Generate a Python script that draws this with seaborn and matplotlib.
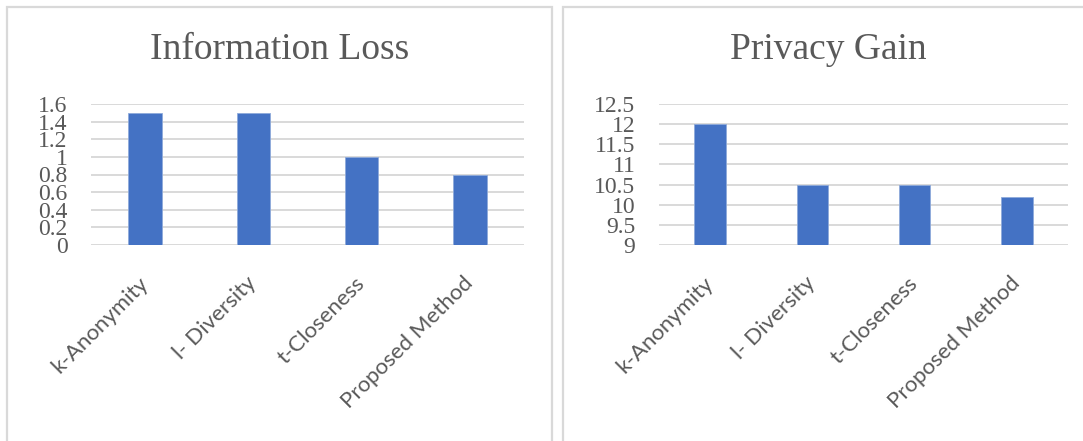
import matplotlib
matplotlib.use('Agg')
import matplotlib.pyplot as plt
import matplotlib.transforms as mtransforms
from matplotlib.patches import Rectangle
import seaborn as sns
import pandas as pd
import numpy as np

# data
methods = ['k-Anonymity', 'l- Diversity', 't-Closeness', 'Proposed Method']
info_loss = [1.5, 1.5, 1.0, 0.8]
privacy_gain = [12.0, 10.5, 10.5, 10.2]
info_ticks = [0, 0.2, 0.4, 0.6, 0.8, 1, 1.2, 1.4, 1.6]
gain_ticks = [9, 9.5, 10, 10.5, 11, 11.5, 12, 12.5]

TEXT = '#595959'
GRID = '#d9d9d9'
BAR = '#4472C4'

sns.set_theme(style='white')
plt.rcParams['font.family'] = ['Liberation Serif', 'DejaVu Serif']

W, H = 1083, 441
fig = plt.figure(figsize=(W / 100, H / 100), dpi=100)
fig.patch.set_facecolor('white')

# panel frames (pixel coords -> figure fraction)
for x0, x1 in [(7, 552), (563, 1095)]:
    fig.patches.append(Rectangle((x0 / W, -0.05), (x1 - x0) / W, 1.05 - 7 / H,
                                 transform=fig.transFigure, fill=False,
                                 edgecolor=GRID, linewidth=1.6))


def draw(ax, values, ticks, title, title_x):
    df = pd.DataFrame({'method': methods, 'value': values})
    sns.barplot(data=df, x='method', y='value', color=BAR, width=0.31,
                saturation=1, ax=ax, edgecolor='#8eaadb', linewidth=0.6)
    ax.set_ylim(ticks[0], ticks[-1])
    ax.set_yticks(ticks)
    ax.set_yticklabels([('%g' % t) for t in ticks], fontsize=17, color=TEXT,
                       family=['Liberation Serif', 'DejaVu Serif'])
    ax.set_xlabel('')
    ax.set_ylabel('')
    for s in ax.spines.values():
        s.set_visible(False)
    ax.yaxis.grid(True, color=GRID, linewidth=1.4)
    ax.set_axisbelow(True)
    ax.tick_params(axis='y', length=0, pad=17)
    ax.tick_params(axis='x', length=0, pad=20)
    ax.set_xticks(range(len(methods)))
    ax.set_xticklabels(methods, rotation=45, ha='right', va='top', fontsize=16,
                       color=TEXT, family=['Lato', 'DejaVu Sans'])
    off = mtransforms.ScaledTranslation(7 / 100, 0, fig.dpi_scale_trans)
    for lab in ax.get_xticklabels():
        lab.set_transform(lab.get_transform() + off)
    fig.text(title_x / W, 1 - 50 / H, title, ha='center', va='center',
             fontsize=27, color=TEXT, family=['Liberation Serif', 'DejaVu Serif'])


ax1 = fig.add_axes([91 / W, (H - 245) / H, 433 / W, 141 / H])
draw(ax1, info_loss, info_ticks, 'Information Loss', 280)

ax2 = fig.add_axes([659 / W, (H - 245) / H, 409 / W, 141 / H])
draw(ax2, privacy_gain, gain_ticks, 'Privacy Gain', 828)

fig.savefig('out.png', dpi=100, facecolor='white')
